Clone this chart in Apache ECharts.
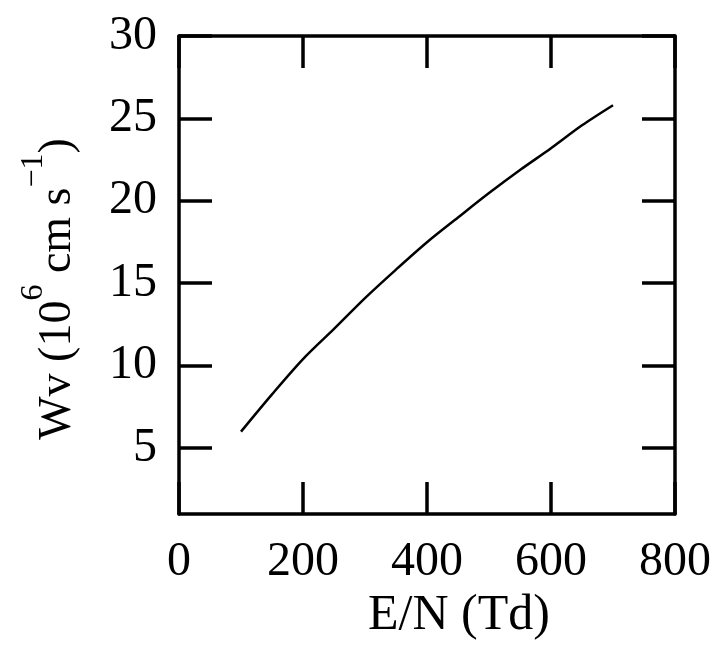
<!DOCTYPE html>
<html>
<head>
<meta charset="utf-8">
<script src="https://cdn.jsdelivr.net/npm/echarts@6/dist/echarts.min.js"></script>
<style>html,body{margin:0;padding:0;background:#fff}#c{width:724px;height:659px}</style>
</head>
<body>
<div id="c"></div>
<script>
const xValues = [100, 150, 200, 250, 300, 350, 400, 450, 500, 550, 600, 650, 700];
const wvValues = [6.0, 8.26, 10.40, 12.23, 14.1, 15.83, 17.49, 18.99, 20.47, 21.87, 23.19, 24.58, 25.8];
const xTicks = [0, 200, 400, 600, 800];
const yTicks = [5, 10, 15, 20, 25, 30];

const FONT = 'Liberation Serif';
const chart = echarts.init(document.getElementById('c'));
const lineStyleAxis = { color: '#000', width: 3.5 };
const tickStyle = { color: '#000', width: 3.5 };

chart.setOption({
  animation: false,
  backgroundColor: '#fff',
  grid: { left: 179, right: 49, top: 36, bottom: 145, containLabel: false, outerBoundsMode: 'none' },
  xAxis: [{
    type: 'value', min: 0, max: 800, interval: 200, position: 'bottom',
    axisLine: { show: true, onZero: false, lineStyle: lineStyleAxis },
    axisTick: { show: true, inside: true, length: 32, lineStyle: tickStyle, customValues: xTicks },
    axisLabel: { show: true, margin: 24, fontFamily: FONT, fontSize: 48, color: '#000', customValues: xTicks },
    splitLine: { show: false },
    name: 'E/N (Td)', nameLocation: 'middle', nameGap: 77,
    nameTextStyle: { fontFamily: FONT, fontSize: 50, color: '#000', padding: [0, 0, 0, 64] }
  }, {
    type: 'value', min: 0, max: 800, interval: 200, position: 'top',
    axisLine: { show: true, onZero: false, lineStyle: lineStyleAxis },
    axisTick: { show: true, inside: true, length: 32, lineStyle: tickStyle, customValues: xTicks },
    axisLabel: { show: false }, splitLine: { show: false }
  }],
  yAxis: [{
    type: 'value', min: 1, max: 30, position: 'left',
    axisLine: { show: true, onZero: false, lineStyle: lineStyleAxis },
    axisTick: { show: true, inside: true, length: 33, lineStyle: tickStyle, customValues: yTicks },
    axisLabel: { show: true, margin: 22, fontFamily: FONT, fontSize: 48, color: '#000', customValues: yTicks },
    splitLine: { show: false },
    name: '{a|Wv (10}{s|6}{a| cm s}{s|\u22121}{a|)}',
    nameLocation: 'middle', nameGap: 81, nameRotate: 90,
    nameTextStyle: {
      fontFamily: FONT, color: '#000', padding: [0, 28, 0, 0],
      rich: {
        a: { fontFamily: FONT, fontSize: 46, lineHeight: 80, color: '#000' },
        s: { fontFamily: FONT, fontSize: 32, lineHeight: 32, verticalAlign: 'top', color: '#000' }
      }
    }
  }, {
    type: 'value', min: 1, max: 30, position: 'right',
    axisLine: { show: true, onZero: false, lineStyle: lineStyleAxis },
    axisTick: { show: true, inside: true, length: 33, lineStyle: tickStyle, customValues: yTicks },
    axisLabel: { show: false }, splitLine: { show: false }
  }],
  series: [{
    type: 'line',
    data: xValues.map((x, i) => [x, wvValues[i]]),
    showSymbol: false, smooth: 0.3,
    lineStyle: { color: '#000', width: 2.5 }
  }]
});
</script>
</body>
</html>
